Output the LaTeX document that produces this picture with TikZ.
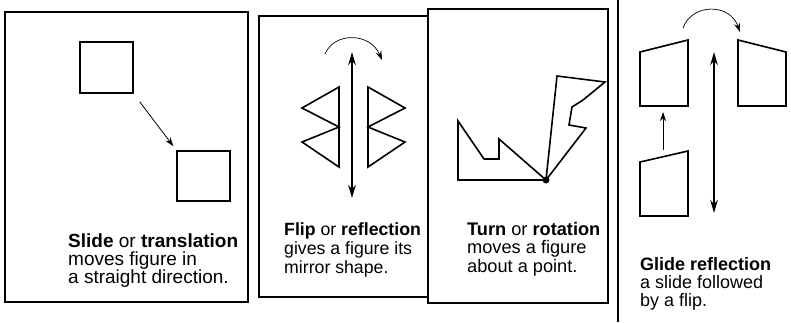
\documentclass[tikz,border=0pt]{standalone}
\usepackage{fontspec}
\setmainfont{Liberation Sans}
\usetikzlibrary{arrows.meta}
\tikzset{
  panel/.style={draw,line width=2pt,fill=white},
  outline/.style={draw,line width=1.6pt,line join=miter},
  sq/.style={outline,minimum width=53pt,minimum height=51pt,inner sep=0pt,outer sep=0pt},
  thinarrow/.style={-{Stealth[length=9pt,width=6pt]},line width=0.8pt},
  mirror/.style={{Stealth[length=13pt,width=7.5pt]}-{Stealth[length=13pt,width=7.5pt]},line width=2.2pt},
  caption/.style={anchor=base west,align=left,inner sep=0pt},
}
\begin{document}
\begin{tikzpicture}[x=1pt,y=-1pt]
\useasboundingbox (0,0) rectangle (791,322);
% slide
\draw[panel] (5,12) rectangle (248,302);
\node[sq] (sqold) at (106.5,67.5) {};
\node[sq,minimum height=50pt] (sqnew) at (203.5,176) {};
\draw[thinarrow,shorten <=11pt,shorten >=6pt] (sqold.south east) -- (sqnew.north west);
\node[caption,font=\fontsize{19}{18}\selectfont] (slidetxt) at (68,283)
  {\textbf{Slide} or \textbf{translation}\\moves figure in\\a straight direction.};
% flip
\draw[panel] (259,16) rectangle (440,297);
\coordinate (mirtop) at (352,52);
\coordinate (mirbot) at (352,198);
\draw[mirror] (mirbot) -- (mirtop);
\draw[thinarrow,line width=0.7pt] (325,54) .. controls (334,32) and (370,32) .. (382,60);
\draw[outline] (339,87) -- (302,108) -- (339,127) -- (302,142) -- (339,167) -- cycle;
\draw[outline] (368,87) -- (405,108) -- (368,127) -- (405,142) -- (368,167) -- cycle;
\node[caption,font=\fontsize{17.7}{19}\selectfont] (fliptxt) at (284,273)
  {\textbf{Flip} or \textbf{reflection}\\gives a figure its\\mirror shape.};
% turn
\draw[panel] (428,9) rectangle (608,303);
\node[circle,fill,inner sep=0pt,minimum size=7pt] (pivot) at (546,180) {};
\draw[outline] (pivot.center) -- (458,180) -- (458,121) -- (484,159) -- (499,159)
  -- (499,139) -- cycle;
\draw[outline] (pivot.center) -- (557,76) -- (605,82) -- (583,100) -- (572,107)
  -- (569,125) -- (586,128) -- cycle;
\node[caption,font=\fontsize{18.2}{18.5}\selectfont] (turntxt) at (467,272)
  {\textbf{Turn} or \textbf{rotation}\\moves a figure\\about a point.};
% glide
\draw[line width=2pt] (618,0) -- (618,322);
\draw[outline] (640,52) -- (688,40) -- (688,106) -- (640,106) -- cycle;
\draw[outline] (640,162) -- (688,151) -- (688,216) -- (640,216) -- cycle;
\draw[outline] (738,40) -- (786,52) -- (786,106) -- (738,106) -- cycle;
\coordinate (glidefrom) at (663,150);
\coordinate (glideto) at (663,112);
\draw[thinarrow] (glidefrom) -- (glideto);
\coordinate (axtop) at (714,52);
\coordinate (axbot) at (714,213);
\draw[mirror] (axbot) -- (axtop);
\draw[thinarrow,line width=0.7pt] (683,28) .. controls (692,3) and (730,3) .. (740,32);
\node[caption,font=\fontsize{18}{18}\selectfont] (glidetxt) at (640,306)
  {\textbf{Glide reflection}\\a slide followed\\by a flip.};
\end{tikzpicture}
\end{document}
